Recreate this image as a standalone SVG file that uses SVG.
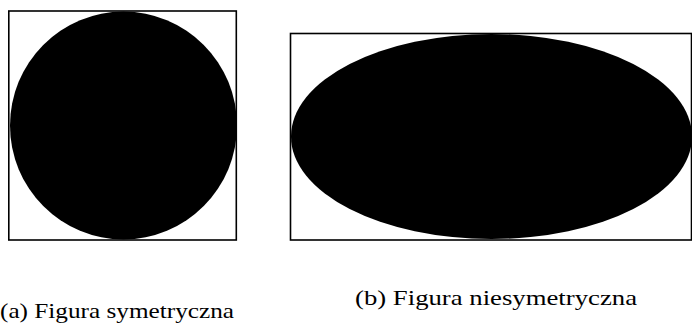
<svg xmlns="http://www.w3.org/2000/svg" width="692" height="325" viewBox="0 0 692 325">
<style>
.frame{fill:none;stroke:#000;stroke-width:1.6}
.shape{fill:#000}
.cap{font-family:"Liberation Serif","DejaVu Serif",serif;font-size:21px;fill:#000}
</style>
<rect width="692" height="325" fill="#fff"/>
<g id="figA">
<rect class="frame" x="8.8" y="11" width="227.5" height="229"/>
<ellipse class="shape" cx="123.5" cy="125.5" rx="113.5" ry="114"/>
<text class="cap" x="0" y="318" textLength="234" lengthAdjust="spacingAndGlyphs">(a) Figura symetryczna</text>
</g>
<g id="figB">
<rect class="frame" x="290.5" y="33.5" width="401" height="206.5"/>
<ellipse class="shape" cx="491.5" cy="136.5" rx="200.5" ry="102.5"/>
<text class="cap" x="355" y="305" textLength="282" lengthAdjust="spacingAndGlyphs">(b) Figura niesymetryczna</text>
</g>
<g id="connectors"/>
</svg>
